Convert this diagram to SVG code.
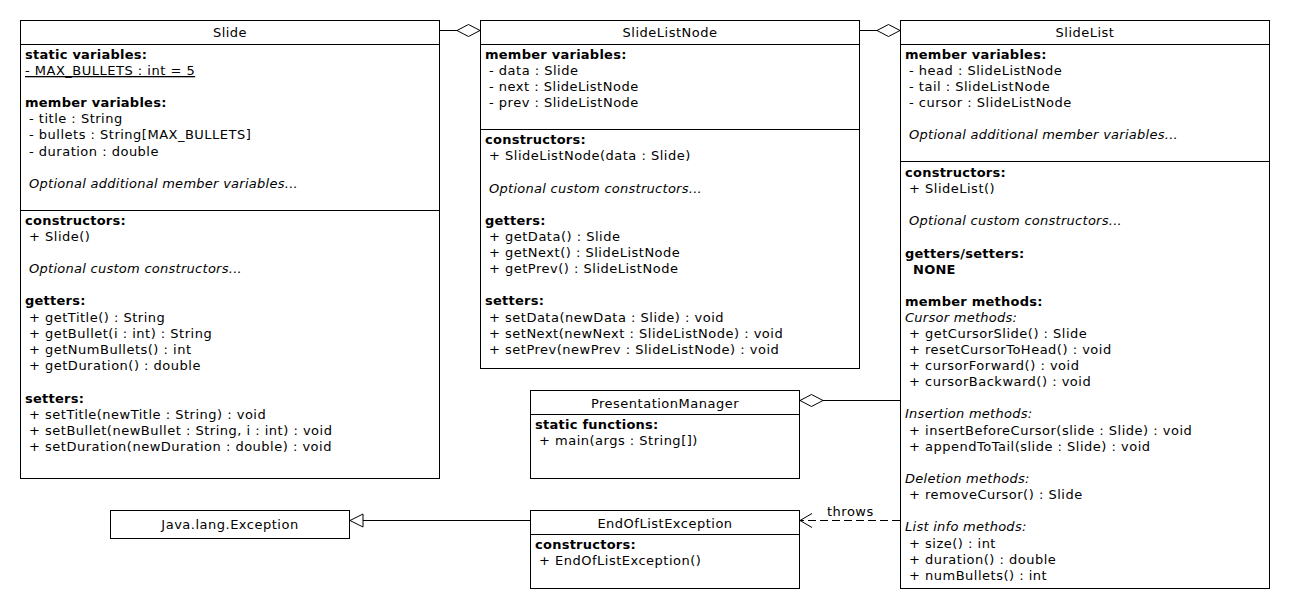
<svg xmlns="http://www.w3.org/2000/svg" width="1290" height="610" viewBox="0 0 1290 610">
<style>
text{font-family:"DejaVu Sans","Liberation Sans",sans-serif;font-size:13px;fill:#000;letter-spacing:0.5px}
.t{text-anchor:middle}
.b{font-weight:bold;letter-spacing:0.25px}
.i{font-style:italic;letter-spacing:0.27px}
.u{text-decoration:underline}
.box{fill:#fff;stroke:#000;stroke-width:1}
.sep{stroke:#000;stroke-width:1;fill:none}
.c{stroke:#000;stroke-width:1;fill:none}
.d{stroke-dasharray:8 4}
</style>
<defs>
<marker id="dia" markerUnits="userSpaceOnUse" markerWidth="26" markerHeight="14" refX="23.5" refY="6.5" orient="auto" overflow="visible">
<path d="M0.5,6.5 L12,0.5 L23.5,6.5 L12,12.5 Z" fill="#fff" stroke="#000" stroke-width="1"/>
</marker>
<marker id="open" markerUnits="userSpaceOnUse" markerWidth="14" markerHeight="16" refX="12" refY="7" orient="auto" overflow="visible">
<path d="M0,0 L12,7 L0,14" fill="none" stroke="#000" stroke-width="1"/>
</marker>
<marker id="tri" markerUnits="userSpaceOnUse" markerWidth="14" markerHeight="14" refX="13" refY="6.5" orient="auto" overflow="visible">
<path d="M0,0 L13,6.5 L0,13 Z" fill="#fff" stroke="#000" stroke-width="1"/>
</marker>
</defs>
<rect width="1290" height="610" fill="#fff"/>

<g id="connectors">
<path class="c" d="M440,30.5 L480,30.5" marker-end="url(#dia)"/>
<path class="c" d="M860,30.5 L900,30.5" marker-end="url(#dia)"/>
<path class="c" d="M900,400.5 L800,400.5" marker-end="url(#dia)"/>
<path class="c d" d="M900,520.5 L800,520.5" marker-end="url(#open)"/>
<text x="827" y="516">throws</text>
<path class="c" d="M530,520.5 L350,520.5" marker-end="url(#tri)"/>
</g>

<g id="slide">
<rect class="box" x="20.5" y="20.5" width="419" height="458"/>
<path class="sep" d="M20.5,44.5 H439.5 M20.5,210.5 H439.5"/>
<text class="t" x="230" y="37">Slide</text>
<text class="b" x="25" y="59">static variables:</text>
<text class="u" x="25" y="75">- MAX_BULLETS : int = 5</text>
<text class="b" x="25" y="107">member variables:</text>
<text x="29" y="123">- title : String</text>
<text x="29" y="139">- bullets : String[MAX_BULLETS]</text>
<text x="29" y="156">- duration : double</text>
<text class="i" x="29" y="188">Optional additional member variables...</text>
<text class="b" x="25" y="225">constructors:</text>
<text x="29" y="241">+ Slide()</text>
<text class="i" x="29" y="273">Optional custom constructors...</text>
<text class="b" x="25" y="305">getters:</text>
<text x="29" y="322">+ getTitle() : String</text>
<text x="29" y="338">+ getBullet(i : int) : String</text>
<text x="29" y="354">+ getNumBullets() : int</text>
<text x="29" y="370">+ getDuration() : double</text>
<text class="b" x="25" y="403">setters:</text>
<text x="29" y="419">+ setTitle(newTitle : String) : void</text>
<text x="29" y="435">+ setBullet(newBullet : String, i : int) : void</text>
<text x="29" y="451">+ setDuration(newDuration : double) : void</text>
</g>

<g id="slidelistnode">
<rect class="box" x="480.5" y="20.5" width="379" height="348"/>
<path class="sep" d="M480.5,44.5 H859.5 M480.5,129.5 H859.5"/>
<text class="t" x="670" y="37">SlideListNode</text>
<text class="b" x="485" y="59">member variables:</text>
<text x="489" y="75">- data : Slide</text>
<text x="489" y="91">- next : SlideListNode</text>
<text x="489" y="107">- prev : SlideListNode</text>
<text class="b" x="485" y="144">constructors:</text>
<text x="489" y="160">+ SlideListNode(data : Slide)</text>
<text class="i" x="489" y="193">Optional custom constructors...</text>
<text class="b" x="485" y="225">getters:</text>
<text x="489" y="241">+ getData() : Slide</text>
<text x="489" y="257">+ getNext() : SlideListNode</text>
<text x="489" y="273">+ getPrev() : SlideListNode</text>
<text class="b" x="485" y="305">setters:</text>
<text x="489" y="322">+ setData(newData : Slide) : void</text>
<text x="489" y="338">+ setNext(newNext : SlideListNode) : void</text>
<text x="489" y="354">+ setPrev(newPrev : SlideListNode) : void</text>
</g>

<g id="slidelist">
<rect class="box" x="900.5" y="20.5" width="369" height="568"/>
<path class="sep" d="M900.5,44.5 H1269.5 M900.5,161.5 H1269.5"/>
<text class="t" x="1085" y="37">SlideList</text>
<text class="b" x="905" y="59">member variables:</text>
<text x="909" y="75">- head : SlideListNode</text>
<text x="909" y="91">- tail : SlideListNode</text>
<text x="909" y="107">- cursor : SlideListNode</text>
<text class="i" x="909" y="139">Optional additional member variables...</text>
<text class="b" x="905" y="177">constructors:</text>
<text x="909" y="193">+ SlideList()</text>
<text class="i" x="909" y="225">Optional custom constructors...</text>
<text class="b" x="905" y="258">getters/setters:</text>
<text class="b" x="913" y="274">NONE</text>
<text class="b" x="905" y="306">member methods:</text>
<text class="i" x="905" y="322">Cursor methods:</text>
<text x="909" y="338">+ getCursorSlide() : Slide</text>
<text x="909" y="354">+ resetCursorToHead() : void</text>
<text x="909" y="370">+ cursorForward() : void</text>
<text x="909" y="386">+ cursorBackward() : void</text>
<text class="i" x="905" y="418">Insertion methods:</text>
<text x="909" y="435">+ insertBeforeCursor(slide : Slide) : void</text>
<text x="909" y="451">+ appendToTail(slide : Slide) : void</text>
<text class="i" x="905" y="483">Deletion methods:</text>
<text x="909" y="499">+ removeCursor() : Slide</text>
<text class="i" x="905" y="531">List info methods:</text>
<text x="909" y="548">+ size() : int</text>
<text x="909" y="564">+ duration() : double</text>
<text x="909" y="580">+ numBullets() : int</text>
</g>

<g id="presentationmanager">
<rect class="box" x="530.5" y="390.5" width="269" height="88"/>
<path class="sep" d="M530.5,414.5 H799.5"/>
<text class="t" x="665" y="408">PresentationManager</text>
<text class="b" x="535" y="429">static functions:</text>
<text x="539" y="445">+ main(args : String[])</text>
</g>

<g id="endoflistexception">
<rect class="box" x="530.5" y="510.5" width="269" height="78"/>
<path class="sep" d="M530.5,534.5 H799.5"/>
<text class="t" x="665" y="528">EndOfListException</text>
<text class="b" x="535" y="549">constructors:</text>
<text x="539" y="565">+ EndOfListException()</text>
</g>

<g id="exception">
<rect class="box" x="110.5" y="510.5" width="239" height="28"/>
<text class="t" x="230" y="529">Java.lang.Exception</text>
</g>
</svg>
